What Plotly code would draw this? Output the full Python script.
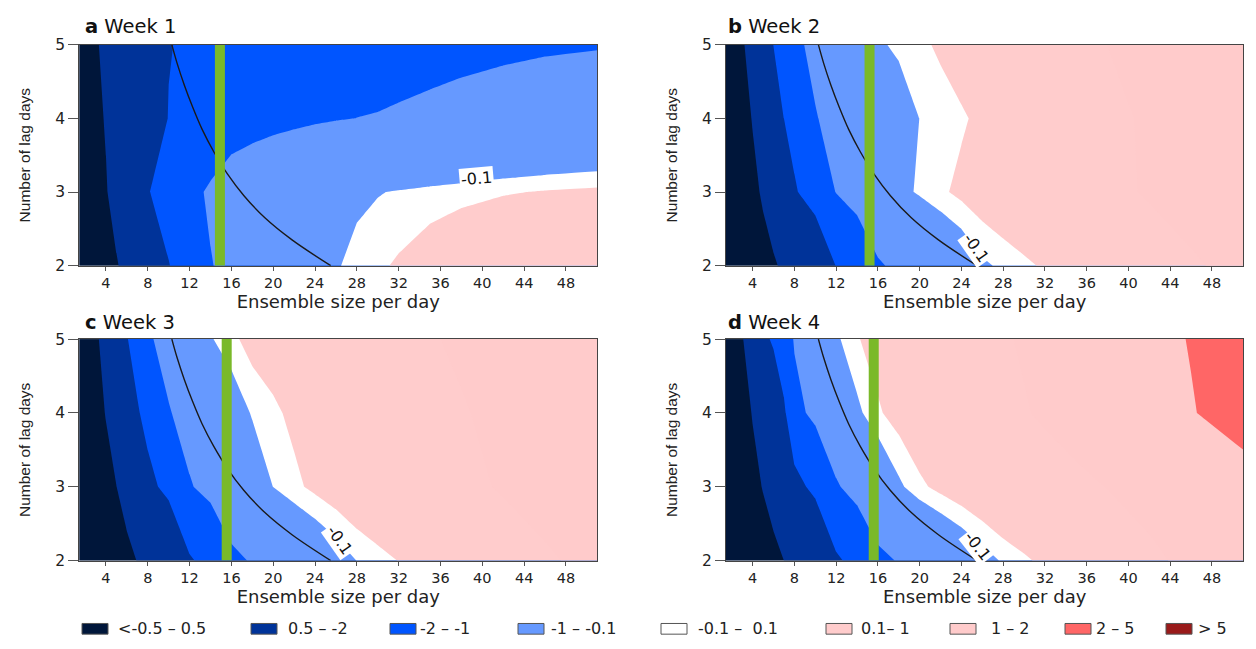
import plotly.graph_objects as go

# ---------------- data ----------------
ENSEMBLE_SIZE = [1.45, 3, 4, 5, 6, 7, 8, 10, 12, 14, 16, 18, 20, 22, 24, 26, 28, 30, 32, 35, 38, 42, 46, 51]
LAG_DAYS = [2, 3, 4, 5]

# score values, one row per lag day (2, 3, 4, 5)
WEEK1 = [
    [-7.33, -6.37, -5.75, -5.13, -4.51, -3.89, -3.27, -2.03, -1.54, -1.022, -0.873, -0.723, -0.573, -0.423, -0.273, -0.123, -0.029, 0.054, 0.136, 0.272, 0.416, 0.563, 0.675, 0.8],
    [-6.99, -5.85, -5.11, -4.375, -3.64, -2.90, -2.045, -1.654, -1.127, -0.938, -0.75, -0.625, -0.5, -0.4, -0.3, -0.213, -0.151, -0.113, -0.079, -0.03, 0.012, 0.075, 0.119, 0.155],
    [-6.15, -5.38, -4.886, -4.39, -3.894, -3.398, -2.90, -1.959, -1.5, -1.357, -1.239, -1.194, -1.15, -1.105, -1.06, -1.026, -0.998, -0.988, -0.979, -0.971, -0.943, -0.886, -0.823, -0.755],
    [-5.79, -5.135, -4.713, -4.291, -3.869, -3.447, -3.025, -2.048, -1.824, -1.6, -1.517, -1.433, -1.35, -1.31, -1.27, -1.23, -1.186, -1.129, -1.077, -1.045, -1.046, -1.045, -1.034, -1.02],
]
WEEK2 = [
    [-7.74, -6.88, -6.33, -5.78, -5.23, -4.67, -4.12, -3.02, -1.969, -1.558, -1.062, -0.887, -0.712, -0.537, -0.362, -0.147, -0.053, 0.040, 0.140, 0.3075, 0.475, 0.698, 0.921, 1.2],
    [-7.61, -6.35, -5.54, -4.72, -3.91, -3.10, -2.10, -1.529, -0.982, -0.745, -0.507, -0.187, -0.0655, 0.0558, 0.163, 0.262, 0.361, 0.460, 0.559, 0.708, 0.856, 1.054, 1.252, 1.5],
    [-7.34, -5.85, -4.884, -3.92, -2.955, -1.997, -1.695, -1.028, -0.841, -0.654, -0.467, -0.280, -0.097, -0.016, 0.065, 0.165, 0.280, 0.394, 0.509, 0.681, 0.854, 1.083, 1.313, 1.6],
    [-6.95, -5.24, -4.14, -3.04, -1.98, -1.647, -1.106, -0.880, -0.654, -0.428, -0.142, -0.0486, 0.0449, 0.144, 0.251, 0.359, 0.466, 0.573, 0.681, 0.842, 1.003, 1.217, 1.432, 1.7],
]
WEEK3 = [
    [-7.95, -7.11, -6.57, -6.03, -5.49, -4.95, -4.41, -3.33, -2.093, -1.696, -1.128, -0.957, -0.784, -0.611, -0.4375, -0.264, -0.095, 0.006, 0.108, 0.280, 0.453, 0.683, 0.913, 1.2],
    [-7.70, -6.53, -5.77, -5.015, -4.26, -3.50, -2.291, -1.703, -1.046, -0.808, -0.570, -0.332, -0.0965, 0.044, 0.160, 0.259, 0.359, 0.458, 0.557, 0.706, 0.855, 1.053, 1.252, 1.5],
    [-7.28, -5.83, -4.897, -3.963, -3.028, -2.093, -1.702, -1.040, -0.774, -0.533, -0.293, -0.075, 0.051, 0.161, 0.260, 0.359, 0.458, 0.558, 0.657, 0.806, 0.955, 1.153, 1.352, 1.6],
    [-7.06, -5.35, -4.25, -3.147, -2.044, -1.616, -1.085, -0.771, -0.457, -0.123, 0.040, 0.202, 0.252, 0.346, 0.439, 0.532, 0.626, 0.719, 0.813, 0.953, 1.093, 1.280, 1.466, 1.7],
]
WEEK4 = [
    [-7.95, -7.12, -6.59, -6.06, -5.53, -4.995, -4.46, -3.40, -2.127, -1.724, -1.148, -0.963, -0.780, -0.596, -0.412, -0.229, -0.066, 0.0486, 0.177, 0.386, 0.595, 0.873, 1.152, 1.5],
    [-7.40, -6.31, -5.60, -4.90, -4.20, -3.50, -2.343, -1.736, -1.065, -0.761, -0.456, -0.152, 0.047, 0.174, 0.279, 0.384, 0.489, 0.595, 0.700, 0.858, 1.016, 1.226, 1.437, 1.7],
    [-7.20, -5.80, -4.89, -3.985, -3.079, -2.172, -1.19, -0.851, -0.508, -0.165, 0.067, 0.205, 0.331, 0.456, 0.582, 0.707, 0.833, 0.958, 1.084, 1.272, 1.460, 1.711, 1.962, 2.3],
    [-6.96, -5.12, -3.93, -2.295, -1.827, -1.360, -0.954, -0.551, -0.148, 0.081, 0.211, 0.332, 0.453, 0.575, 0.696, 0.818, 0.939, 1.061, 1.182, 1.364, 1.546, 1.789, 2.032, 2.4],
]

LEVEL_BOUNDS = [-5, -2, -1, -0.1, 0.1, 1, 2, 5]
CLASS_LABELS = ["<-0.5 \u2013 0.5", "0.5 \u2013 -2", "-2 \u2013 -1", "-1 \u2013 -0.1", "-0.1 \u2013  0.1",
                "0.1\u2013 1", "1 \u2013 2", "2 \u2013 5", "> 5"]

# reference curve (constant total ensemble)
REF_CURVE_X = [10.3, 10.8, 11.5, 12.3, 13.2, 14.3, 15.6, 17.2, 19.2, 21.8, 25.5]
REF_CURVE_Y = [5.0, 4.75, 4.45, 4.15, 3.85, 3.55, 3.25, 2.95, 2.65, 2.35, 2.0]

# green marker line position per panel
GREEN_LINE_X = [14.9, 15.2, 15.55, 15.6]

PANEL_LETTERS = ["a", "b", "c", "d"]
PANEL_TITLES = ["Week 1", "Week 2", "Week 3", "Week 4"]
PANEL_DATA = [WEEK1, WEEK2, WEEK3, WEEK4]

XTICKS = [4, 8, 12, 16, 20, 24, 28, 32, 36, 40, 44, 48]
YTICKS = [2, 3, 4, 5]

# ---------------- styles ----------------
CLASS_COLORS = ["#00163A", "#003399", "#0055FF", "#6699FF", "#FFFFFF", "#FFCCCC", "#FFCBCB", "#FF6666", "#991A1A"]
GREEN = "#7AB929"
FONT = "Liberation Sans, Arial, Helvetica, sans-serif"
WIDE = "DejaVu Sans, Verdana, sans-serif"
TXT = "#222222"
W, H = 1256, 649

X_DOMAINS = [[79.3 / W, 597.3 / W], [726 / W, 1243.3 / W]]
Y_DOMAINS = [[1 - 264 / H, 1 - 36.7 / H], [1 - 567.3 / H, 1 - 339.5 / H]]

fig = go.Figure()
layout = dict(
    width=W, height=H,
    margin=dict(l=0, r=0, t=0, b=0),
    paper_bgcolor="white",
    plot_bgcolor=CLASS_COLORS[0],
    font=dict(family=WIDE, color=TXT),
    showlegend=False,
    hovermode=False,
)

label_spec = [(39.4, 3.18, -5), (25.4, 2.25, 55), (26.3, 2.28, 55), (25.5, 2.2, 52)]
annotations = []
shapes = []

for i in range(4):
    r, c = divmod(i, 2)
    xa = "x" if i == 0 else f"x{i + 1}"
    ya = "y" if i == 0 else f"y{i + 1}"
    xkey = "xaxis" if i == 0 else f"xaxis{i + 1}"
    ykey = "yaxis" if i == 0 else f"yaxis{i + 1}"
    z = PANEL_DATA[i]
    for lev, col in zip(LEVEL_BOUNDS, CLASS_COLORS[1:]):
        fig.add_trace(go.Contour(
            x=ENSEMBLE_SIZE, y=LAG_DAYS, z=z,
            contours=dict(type="constraint", operation="<", value=lev),
            fillcolor=col, line=dict(width=0, color=col, smoothing=0),
            showscale=False, hoverinfo="skip", xaxis=xa, yaxis=ya,
        ))
    fig.add_trace(go.Scatter(
        x=REF_CURVE_X, y=REF_CURVE_Y, mode="lines",
        line=dict(color="#1A1A1A", width=1.4, shape="spline"),
        hoverinfo="skip", xaxis=xa, yaxis=ya,
    ))
    fig.add_trace(go.Scatter(
        x=[GREEN_LINE_X[i], GREEN_LINE_X[i]], y=[YTICKS[0], YTICKS[-1]], mode="lines",
        line=dict(color=GREEN, width=10),
        hoverinfo="skip", xaxis=xa, yaxis=ya,
    ))
    layout[xkey] = dict(
        domain=X_DOMAINS[c], anchor=ya, range=[ENSEMBLE_SIZE[0], ENSEMBLE_SIZE[-1]],
        tickmode="array", tickvals=XTICKS, ticktext=[str(t) for t in XTICKS],
        ticks="outside", ticklen=4, tickwidth=1, tickcolor="#555555",
        showline=True, linecolor="#444444", linewidth=1.3, mirror=True,
        showgrid=False, zeroline=False,
        tickfont=dict(family=WIDE, size=14.5, color=TXT),
        title=dict(text="Ensemble size per day", font=dict(family=WIDE, size=18, color=TXT), standoff=3),
    )
    layout[ykey] = dict(
        domain=Y_DOMAINS[r], anchor=xa, range=[YTICKS[0], YTICKS[-1]],
        tickmode="array", tickvals=YTICKS, ticktext=[str(t) for t in YTICKS],
        ticks="outside", ticklen=10, tickwidth=1, tickcolor="#555555",
        showline=True, linecolor="#444444", linewidth=1.3, mirror=True,
        showgrid=False, zeroline=False,
        tickfont=dict(family=WIDE, size=15.5, color=TXT),
        title=dict(text="Number of lag days", font=dict(family=FONT, size=15.5, color=TXT), standoff=20),
    )
    # panel title
    tx = (83 if c == 0 else 726) / W
    ty = 1 - (18.5 if r == 0 else 322.5) / H
    annotations.append(dict(
        xref="paper", yref="paper", x=tx, y=ty, xanchor="left", yanchor="middle",
        text=f"<b>{PANEL_LETTERS[i]}</b> {PANEL_TITLES[i]}", showarrow=False,
        font=dict(family=WIDE, size=19.5, color="#111111"),
    ))
    # contour label
    lx, ly, ang = label_spec[i]
    annotations.append(dict(
        xref=xa, yref=ya, x=lx, y=ly, text="-0.1", showarrow=False, textangle=ang,
        bgcolor="white", borderpad=1, font=dict(family=WIDE, size=16, color="#111111"),
    ))

# legend row
box_left = [82, 251, 390, 518, 661, 826, 950, 1065, 1166]
text_left = [116, 286, 418, 549, 696, 859, 989, 1094, 1196]
for k in range(9):
    shapes.append(dict(
        type="rect", xref="paper", yref="paper",
        x0=box_left[k] / W, x1=(box_left[k] + 26) / W,
        y0=1 - 643 / H, y1=1 - 632 / H,
        fillcolor=CLASS_COLORS[k], line=dict(color="#555555", width=1),
    ))
    annotations.append(dict(
        xref="paper", yref="paper", x=text_left[k] / W, y=1 - 637.5 / H,
        xanchor="left", yanchor="middle", text=CLASS_LABELS[k], showarrow=False,
        font=dict(family=WIDE, size=16, color=TXT),
    ))

layout["annotations"] = annotations
layout["shapes"] = shapes
fig.update_layout(**layout)
fig.write_html("out.html")
